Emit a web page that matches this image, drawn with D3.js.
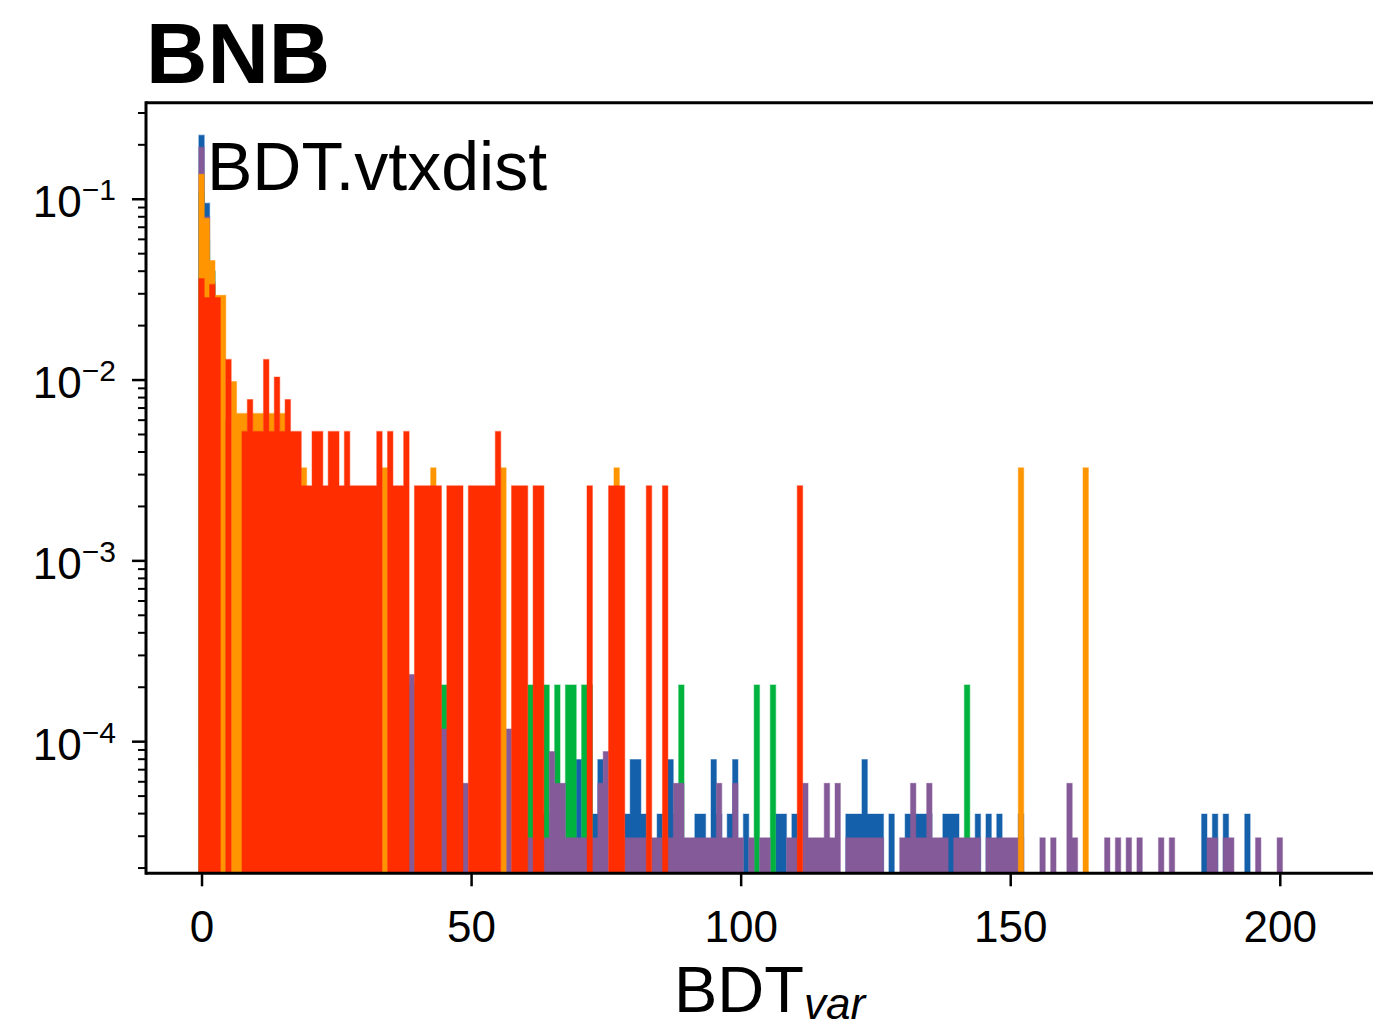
<!DOCTYPE html>
<html>
<head>
<meta charset="utf-8">
<script src="https://cdn.jsdelivr.net/npm/d3@7"></script>
<style>
  html, body { margin: 0; padding: 0; background: #ffffff; }
  svg { display: block; }
  text { font-family: "Liberation Sans", Arial, Helvetica, sans-serif; fill: #000; }
</style>
</head>
<body>
<svg id="chart" width="1373" height="1027"></svg>
<script>
// Histogram bins of BDT.vtxdist: each entry is [bin centre, entries in bin].
// Bins are one unit wide; the per-series factor turns entries into a normalised density.
const binWidth = 1;

const blueBins = [[0,5680],[1,2390],[2,1000],[3,300],[4,150],
  [61,2],[63,1],[64,1],[70,2],[73,1],[74,2],[79,1],[80,2],[81,2],[82,1],[85,1],[87,2],[88,1],
  [92,1],[93,1],[95,2],[96,1],[98,1],[99,2],[101,1],[107,1],[108,1],[110,1],
  [120,1],[121,1],[122,1],[123,2],[124,1],[125,1],[126,1],[128,1],
  [131,1],[132,1],[133,1],[134,1],[135,1],[138,1],[139,1],[140,1],[144,1],[146,1],[148,1],[152,1],
  [186,1],[188,1],[190,1],[194,1]];

const greenBins = [[0,530],[1,290],[2,195],[3,100],
  [39,1],[45,1],[61,1],[64,1],[66,1],[68,1],[69,1],[71,1],[72,1],[89,1],[103,1],[106,1],[142,1]];

const purpleBins = [[0,6600],[1,2720],[2,1190],[3,370],
  [39,8],[45,4],[49,2],[54,3],[57,4],[61,1],[63,1],[64,1],[65,3],[66,2],[67,2],[68,1],[69,1],[70,1],
  [71,1],[72,1],[73,1],[74,2],[75,3],[79,1],[80,1],[81,1],[82,1],[84,1],[85,1],[86,1],[87,1],
  [88,2],[89,2],[90,1],[91,1],[92,1],[93,1],[94,1],[95,1],[96,2],[97,1],[98,1],[99,2],[100,1],
  [102,1],[104,1],[105,1],[109,1],[110,1],[112,2],[113,1],[114,1],[115,1],[116,2],[117,1],[118,2],
  [120,1],[121,1],[122,1],[123,1],[124,1],[125,1],[126,1],[130,1],[131,1],[132,2],[133,1],[134,1],
  [135,2],[136,1],[137,1],[138,1],[140,1],[141,1],[142,1],[143,1],[144,1],[146,1],[147,1],[148,1],
  [149,1],[150,1],[151,1],[152,1],[156,1],[158,1],[161,2],[162,1],[168,1],[170,1],[172,1],[174,1],
  [178,1],[180,1],[187,1],[188,1],[190,1],[191,1],[196,1],[200,1]];

const orangeBins = [[0,42],[1,24],[2,14],[3,9],[4,9],[6,3],[7,2],[8,2],[10,2],[11,2],[13,2],[15,2],
  [19,1],[34,1],[43,1],[56,1],[77,1],[152,1],[164,1]];

const redBins = [[0,14],[1,11],[2,13],[3,11],[5,5],[8,2],[9,3],[10,2],[11,2],[12,5],
  [13,2],[14,4],[15,2],[16,3],[17,2],[18,2],[19,1],[20,1],[21,2],[22,2],[23,1],[24,2],[25,2],
  [26,1],[27,2],[28,1],[29,1],[30,1],[31,1],[32,1],[33,2],[35,2],[36,1],[37,1],[38,2],
  [40,1],[41,1],[42,1],[43,1],[44,1],[46,1],[47,1],[48,1],[50,1],[51,1],[52,1],[53,1],[54,1],
  [55,2],[58,1],[59,1],[60,1],[62,1],[63,1],[72,1],[76,1],[77,1],[78,1],[83,1],[86,1],[111,1]];

// density carried by one entry in each sample
const densityPerEntry = { blue: 3.98e-5, green: 2.06e-4, purple: 2.94e-5, orange: 3.27e-3, red: 2.6e-3 };

// drawing order, back to front
const seriesOrder = ["blue", "green", "purple", "orange", "red"];
const seriesBins = { blue: blueBins, green: greenBins, purple: purpleBins, orange: orangeBins, red: redBins };
const seriesColor = { blue: "#1560ab", green: "#00b33f", purple: "#845b98", orange: "#ff9500", red: "#ff2d00" };

const xTickValues = [0, 50, 100, 150, 200];
const yDecades = [-4, -3, -2, -1];

const titleText = "BNB";
const variableName = "BDT.vtxdist";

// ---- layout ----
const plotLeft = 146, plotRight = 1393, plotTop = 102.7, plotBottom = 873.3;
const xScale = d3.scaleLinear().domain([-10.3, 221]).range([plotLeft, plotRight]);
const yScale = d3.scaleLog().domain([Math.pow(10, -4.728), Math.pow(10, -0.466)]).range([plotBottom, plotTop]);

const svg = d3.select("#chart");

svg.append("defs").append("clipPath").attr("id", "plotClip")
  .append("rect").attr("x", plotLeft).attr("y", plotTop)
  .attr("width", plotRight - plotLeft).attr("height", plotBottom - plotTop);

// Step-filled outline for each run of consecutive non-empty bins.
function histogramPath(bins, scale) {
  const sorted = bins.filter(d => d[1] > 0).slice().sort((a, b) => a[0] - b[0]);
  const p = d3.path();
  let prev = null;
  sorted.forEach(d => {
    const left = xScale(d[0] - binWidth / 2), right = xScale(d[0] + binWidth / 2);
    const top = yScale(d[1] * scale);
    if (prev === null || d[0] !== prev + 1) {
      if (prev !== null) { p.lineTo(xScale(prev + binWidth / 2), plotBottom); p.closePath(); }
      p.moveTo(left, plotBottom);
    }
    p.lineTo(left, top);
    p.lineTo(right, top);
    prev = d[0];
  });
  if (prev !== null) { p.lineTo(xScale(prev + binWidth / 2), plotBottom); p.closePath(); }
  return p.toString();
}

const histLayer = svg.append("g").attr("clip-path", "url(#plotClip)");
seriesOrder.forEach(name => {
  histLayer.append("path")
    .attr("d", histogramPath(seriesBins[name], densityPerEntry[name]))
    .attr("fill", seriesColor[name])
    .attr("stroke", seriesColor[name])
    .attr("stroke-opacity", 0.4)
    .attr("stroke-width", 1.2)
    .attr("stroke-linejoin", "miter");
});

// ---- axes ----
const xAxis = d3.axisBottom(xScale).tickValues(xTickValues).tickSize(13).tickPadding(24)
  .tickFormat(d3.format("d"));
const gx = svg.append("g").attr("transform", `translate(0,${plotBottom})`).call(xAxis);
gx.select(".domain").remove();
gx.selectAll(".tick line").attr("stroke", "#000").attr("stroke-width", 2.5);
gx.selectAll(".tick text").attr("font-size", 44).attr("dy", "0.71em")
  .attr("font-family", '"Liberation Sans", Arial, sans-serif');

// log y axis: major ticks at decades, minor ticks at 2..9
const yMinor = [];
for (let e = -5; e <= -1; e++) for (let m = 2; m <= 9; m++) {
  const v = m * Math.pow(10, e);
  if (v >= yScale.domain()[0] && v <= yScale.domain()[1]) yMinor.push(v);
}
const yMajor = yDecades.map(e => Math.pow(10, e));

const gy = svg.append("g");
gy.selectAll("line.minor").data(yMinor).join("line").attr("class", "minor")
  .attr("x1", plotLeft - 8).attr("x2", plotLeft)
  .attr("y1", d => yScale(d)).attr("y2", d => yScale(d))
  .attr("stroke", "#000").attr("stroke-width", 2);
gy.selectAll("line.major").data(yMajor).join("line").attr("class", "major")
  .attr("x1", plotLeft - 14).attr("x2", plotLeft)
  .attr("y1", d => yScale(d)).attr("y2", d => yScale(d))
  .attr("stroke", "#000").attr("stroke-width", 2.5);
const yLabels = gy.selectAll("text.ylab").data(yDecades).join("text").attr("class", "ylab")
  .attr("x", 116).attr("y", d => yScale(Math.pow(10, d)) + 18)
  .attr("text-anchor", "end");
yLabels.append("tspan").attr("font-size", 44).text("10");
yLabels.append("tspan").attr("font-size", 30).attr("dy", -17).text(d => "\u2212" + Math.abs(d));

// spines
const spine = svg.append("g").attr("stroke", "#000").attr("stroke-width", 3).attr("fill", "none");
spine.append("line").attr("x1", plotLeft).attr("x2", plotLeft).attr("y1", plotTop - 1.5).attr("y2", plotBottom + 1.5);
spine.append("line").attr("x1", plotLeft).attr("x2", plotRight).attr("y1", plotBottom).attr("y2", plotBottom);
spine.append("line").attr("x1", plotLeft).attr("x2", plotRight).attr("y1", plotTop).attr("y2", plotTop);
spine.append("line").attr("x1", plotRight).attr("x2", plotRight).attr("y1", plotTop).attr("y2", plotBottom);

// ---- texts ----
svg.append("text").attr("x", plotLeft).attr("y", 83)
  .attr("font-size", 85).attr("font-weight", "bold").text(titleText);

svg.append("text").attr("x", 207).attr("y", 190)
  .attr("font-size", 68).text(variableName);

const xLabel = svg.append("text").attr("x", (plotLeft + plotRight) / 2).attr("y", 1012)
  .attr("text-anchor", "middle");
xLabel.append("tspan").attr("font-size", 65).text("BDT");
xLabel.append("tspan").attr("font-size", 44).attr("font-style", "italic").attr("dy", 7).text("var");
</script>
</body>
</html>
